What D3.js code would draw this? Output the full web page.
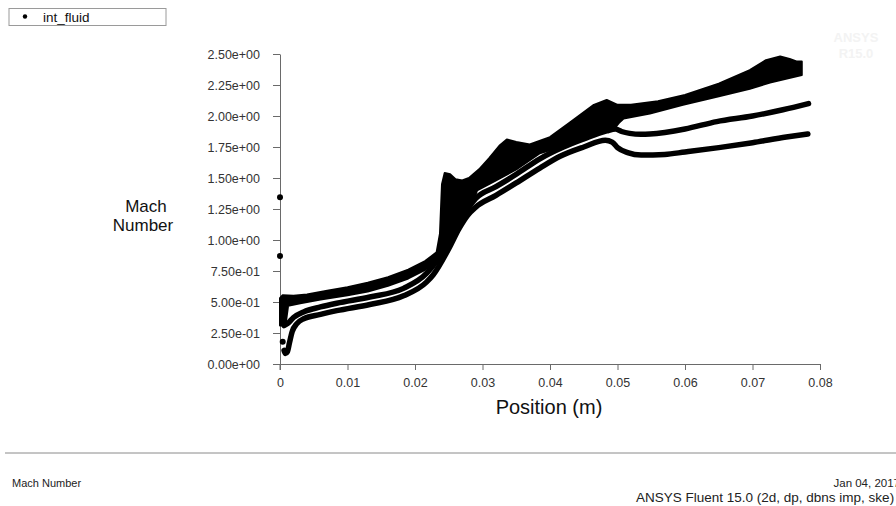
<!DOCTYPE html>
<html><head><meta charset="utf-8">
<script src="https://cdn.jsdelivr.net/npm/d3@7"></script>
<style>body{margin:0;background:#fff}svg{display:block;font-family:"Liberation Sans",Arial,sans-serif}</style>
</head><body><svg id="c" width="896" height="506"></svg>
<script>
const xTicks=[0,0.01,0.02,0.03,0.04,0.05,0.06,0.07,0.08];
const xTickLabels=["0","0.01","0.02","0.03","0.04","0.05","0.06","0.07","0.08"];
const yTicks=[0,0.25,0.5,0.75,1,1.25,1.5,1.75,2,2.25,2.5];
const yTickLabels=["0.00e+00","2.50e-01","5.00e-01","7.50e-01","1.00e+00","1.25e+00","1.50e+00","1.75e+00","2.00e+00","2.25e+00","2.50e+00"];
const legendLabel="int_fluid";
// upper edge of the dense black band (x in m, Mach)
const bandTop=[[0,0.53],[0.0004,0.555],[0.002,0.55],[0.004,0.56],[0.007,0.59],[0.01,0.62],[0.013,0.655],[0.016,0.70],[0.019,0.76],[0.0215,0.83],[0.0232,0.90],[0.0237,1.05],[0.0240,1.45],[0.0244,1.54],[0.0252,1.53],[0.026,1.49],[0.027,1.48],[0.028,1.50],[0.0295,1.57],[0.031,1.66],[0.0325,1.76],[0.0336,1.81],[0.035,1.79],[0.037,1.77],[0.040,1.83],[0.043,1.95],[0.0465,2.09],[0.0484,2.13],[0.050,2.09],[0.052,2.09],[0.056,2.12],[0.060,2.17],[0.065,2.26],[0.0696,2.37],[0.072,2.45],[0.0741,2.48],[0.0755,2.46],[0.0765,2.44],[0.0773,2.44]];
// lower edge of the dense black band
const bandBottom=[[0,0.31],[0.0008,0.31],[0.0012,0.47],[0.003,0.49],[0.006,0.52],[0.01,0.555],[0.013,0.585],[0.016,0.63],[0.019,0.69],[0.0215,0.76],[0.0225,0.80],[0.025,0.99],[0.0265,1.16],[0.0278,1.27],[0.0287,1.33],[0.0292,1.40],[0.032,1.48],[0.035,1.57],[0.0385,1.70],[0.042,1.76],[0.045,1.82],[0.0484,1.89],[0.0497,1.91],[0.0503,1.95],[0.0509,1.98],[0.0548,2.02],[0.0597,2.09],[0.0647,2.155],[0.0696,2.22],[0.0726,2.27],[0.0773,2.33]];
const midLine=[[0.0006,0.31],[0.0012,0.33],[0.002,0.375],[0.0035,0.42],[0.006,0.46],[0.0084,0.49],[0.0133,0.54],[0.0183,0.61],[0.0217,0.73],[0.0225,0.78],[0.025,0.97],[0.0265,1.13],[0.0278,1.25],[0.029,1.335],[0.032,1.43],[0.035,1.53],[0.0385,1.655],[0.042,1.75],[0.045,1.815],[0.0484,1.88],[0.0497,1.895],[0.0506,1.875],[0.0518,1.86],[0.0535,1.853],[0.0548,1.855],[0.060,1.895],[0.0647,1.955],[0.070,2.0],[0.0745,2.05],[0.0783,2.10]];
const lowLine=[[0.0006,0.11],[0.0008,0.085],[0.0011,0.10],[0.0014,0.17],[0.0018,0.26],[0.0025,0.325],[0.0035,0.365],[0.006,0.40],[0.0084,0.43],[0.0133,0.48],[0.0183,0.55],[0.0217,0.66],[0.0227,0.72],[0.025,0.93],[0.0265,1.09],[0.0278,1.20],[0.029,1.265],[0.032,1.36],[0.035,1.46],[0.0385,1.58],[0.0415,1.675],[0.045,1.75],[0.0482,1.805],[0.0492,1.79],[0.050,1.745],[0.0515,1.705],[0.0535,1.685],[0.057,1.69],[0.060,1.71],[0.065,1.745],[0.070,1.785],[0.075,1.83],[0.0782,1.855]];
const isolatedPoints=[[0,1.345],[0,0.87],[0.0004,0.18]];
const footerLeft="Mach Number";
const footerDate="Jan 04, 2017";
const footerSolver="ANSYS Fluent 15.0 (2d, dp, dbns imp, ske)";

const svg=d3.select("#c");
svg.append("rect").attr("width",896).attr("height",506).attr("fill","#fff");
const x=d3.scaleLinear().domain([0,0.08]).range([280,820]);
const y=d3.scaleLinear().domain([0,2.5]).range([364,54]);

// watermark
const wm=svg.append("g").attr("fill","#f3f3f3").attr("font-weight","bold").attr("font-size",13).attr("text-anchor","middle");
wm.append("text").attr("x",856).attr("y",42).text("ANSYS");
wm.append("text").attr("x",856).attr("y",58).text("R15.0");

// legend
svg.append("rect").attr("x",9).attr("y",8.5).attr("width",157).attr("height",17).attr("fill","#fff").attr("stroke","#9a9a9a");
svg.append("circle").attr("cx",25).attr("cy",16.5).attr("r",2.2).attr("fill","#000");
svg.append("text").attr("x",43).attr("y",21.5).attr("font-size",13.5).attr("fill","#111").text(legendLabel);

// axes
const minorX=d3.range(0,0.08+1e-9,0.0025);
const minorY=d3.range(0,2.5+1e-9,0.025);
const gx=svg.append("g").attr("transform","translate(0,364)");
gx.call(d3.axisBottom(x).tickValues(minorX).tickSize(3).tickSizeOuter(0).tickFormat(""));
gx.call(d3.axisBottom(x).tickValues(xTicks).tickSize(6).tickSizeOuter(0).tickPadding(8).tickFormat((d,i)=>xTickLabels[i]));
const gy=svg.append("g").attr("transform","translate(280,0)");
gy.call(d3.axisLeft(y).tickValues(minorY).tickSize(4).tickSizeOuter(0).tickFormat(""));
gy.call(d3.axisLeft(y).tickValues(yTicks).tickSize(7).tickSizeOuter(0).tickPadding(13).tickFormat((d,i)=>yTickLabels[i]));
svg.selectAll(".domain, .tick line").attr("stroke","#6a6a6a");
svg.selectAll(".tick text").attr("font-size",12.5).attr("fill","#333").attr("font-family","Liberation Sans, Arial, sans-serif");
svg.append("line").attr("x1",x(0)).attr("x2",x(0)).attr("y1",y(0)).attr("y2",y(0)+6).attr("stroke","#6a6a6a");

// axis titles
svg.append("text").attr("x",146).attr("y",212).attr("font-size",17).attr("fill","#111").attr("text-anchor","middle").text("Mach");
svg.append("text").attr("x",143).attr("y",231).attr("font-size",17).attr("fill","#111").attr("text-anchor","middle").text("Number");
svg.append("text").attr("x",549).attr("y",414).attr("font-size",20).attr("fill","#111").attr("text-anchor","middle").text("Position (m)");

// data
const plot=svg.append("g");
const line=d3.line().x(d=>x(d[0])).y(d=>y(d[1]));
const poly=bandTop.concat(bandBottom.slice().reverse());
plot.append("path").attr("d",line(poly)+"Z").attr("fill","#000").attr("stroke","#000").attr("stroke-width",2).attr("stroke-linejoin","round");
const cline=d3.line().x(d=>x(d[0])).y(d=>y(d[1])).curve(d3.curveMonotoneX);
[midLine,lowLine].forEach(s=>plot.append("path").attr("d",cline(s)).attr("fill","none").attr("stroke","#000").attr("stroke-width",5.5).attr("stroke-linecap","round").attr("stroke-linejoin","round"));
plot.selectAll("circle.pt").data(isolatedPoints).join("circle").attr("class","pt").attr("cx",d=>x(d[0])).attr("cy",d=>y(d[1])).attr("r",3).attr("fill","#000");

// footer
svg.append("line").attr("x1",5).attr("x2",896).attr("y1",453).attr("y2",453).attr("stroke","#8a8a8a");
svg.append("text").attr("x",12).attr("y",487).attr("font-size",11).attr("fill","#222").text(footerLeft);
svg.append("text").attr("x",900).attr("y",487).attr("font-size",11.5).attr("fill","#222").attr("text-anchor","end").text(footerDate);
svg.append("text").attr("x",636).attr("y",502).attr("font-size",13.5).attr("fill","#222").text(footerSolver);
</script></body></html>
